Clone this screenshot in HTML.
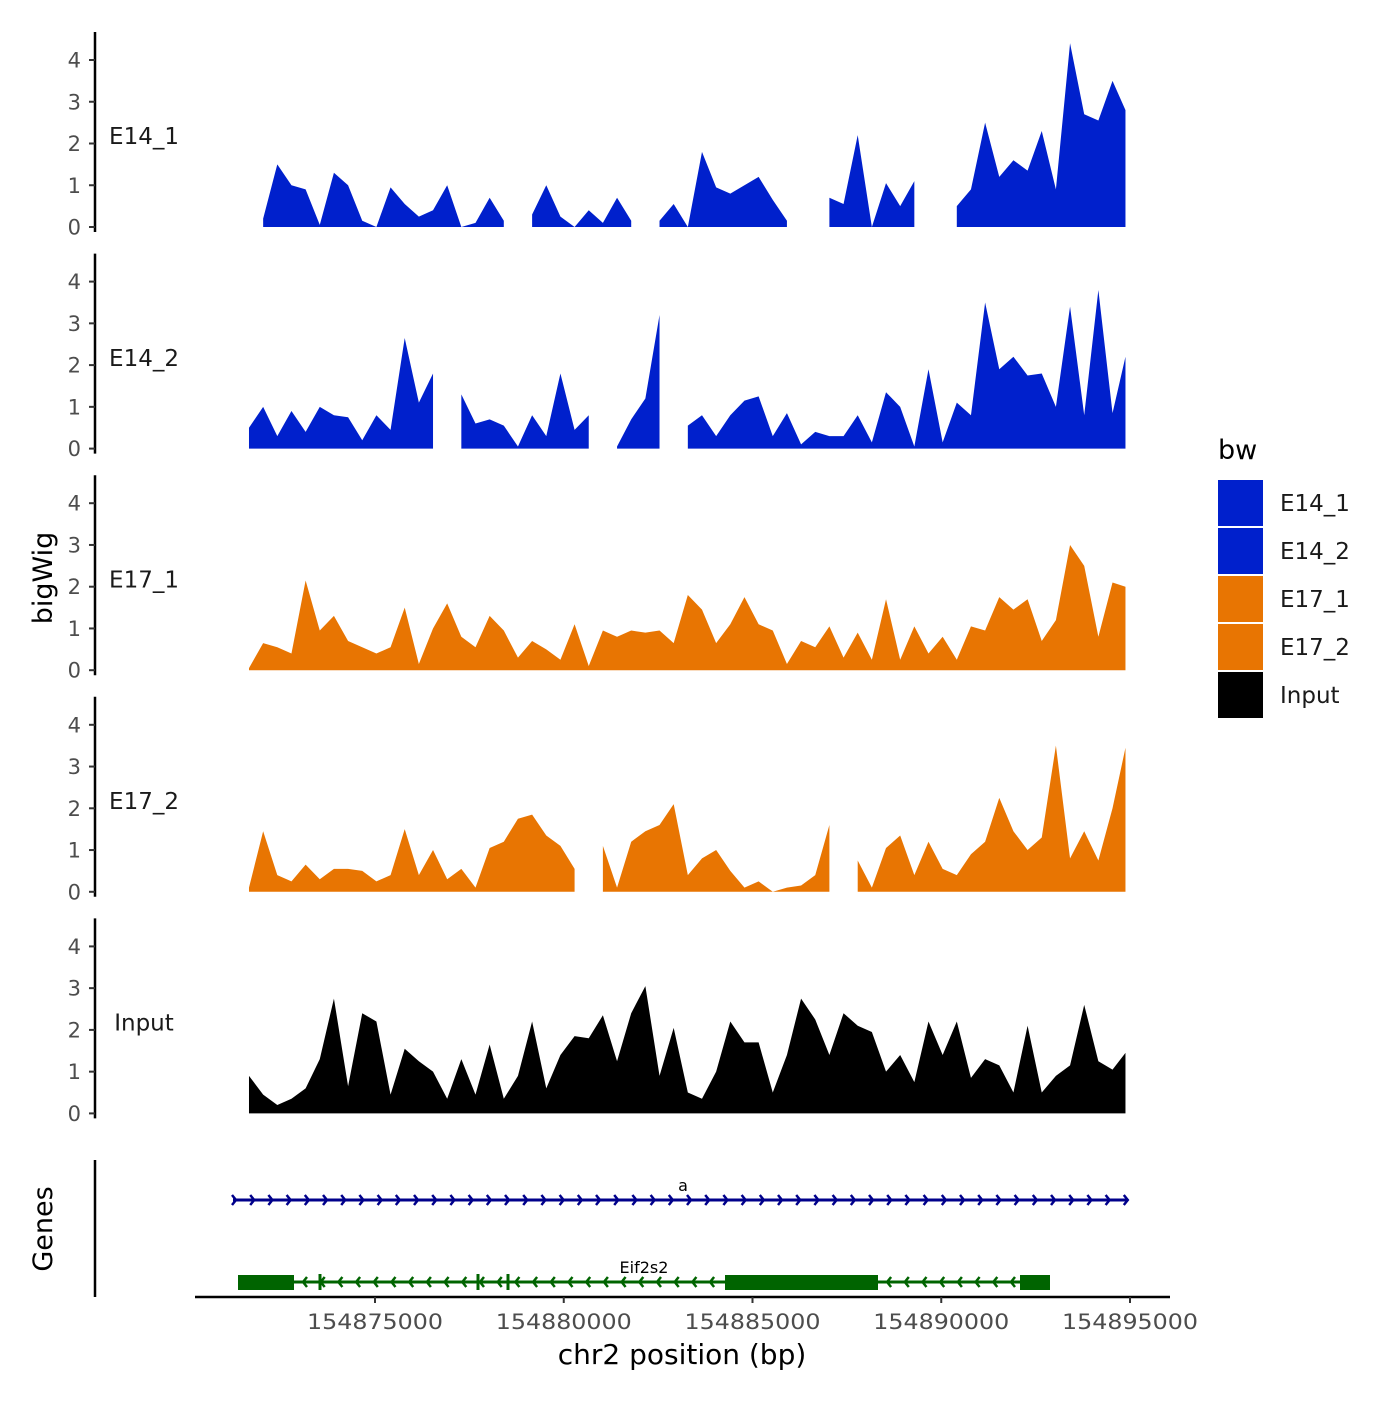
<!DOCTYPE html>
<html><head><meta charset="utf-8"><style>
body{margin:0;background:#fff}
svg text{font-family:"DejaVu Sans","Liberation Sans",sans-serif}
</style></head><body>
<svg id="chart" width="1400" height="1400" xmlns="http://www.w3.org/2000/svg">
<g id="tracks"></g>
<g id="genes"></g>
<g id="xaxis"></g>
<text x="52" y="578" transform="rotate(-90 52 578)" text-anchor="middle" font-size="27">bigWig</text>
<text x="52" y="1229" transform="rotate(-90 52 1229)" text-anchor="middle" font-size="27">Genes</text>
<text x="682" y="1364" text-anchor="middle" font-size="28">chr2 position (bp)</text>
<g id="legend">
<text x="1218" y="459" font-size="27">bw</text>
</g>
</svg>
<script>
const trackNames = ["E14_1","E14_2","E17_1","E17_2","Input"];
const trackColors = ["#0020cc","#0020cc","#e87502","#e87502","#000000"];
const startBp = 154871662;
const stepBp = 375;
const endBp = 154894880;
const e14_1 = [null,0.2,1.5,1.0,0.9,0.05,1.3,1.0,0.15,0,0.95,0.55,0.25,0.4,1.0,0,0.1,0.7,0.15,null,0.3,1.0,0.25,0,0.4,0.1,0.7,0.15,null,0.15,0.55,0,1.8,0.95,0.8,1.0,1.2,0.65,0.15,null,null,0.7,0.55,2.2,0,1.05,0.5,1.1,null,null,0.5,0.9,2.5,1.2,1.6,1.35,2.3,0.9,4.4,2.7,2.55,3.5,2.8];
const e14_2 = [0.5,1.0,0.3,0.9,0.4,1.0,0.8,0.75,0.2,0.8,0.45,2.65,1.1,1.8,null,1.3,0.6,0.7,0.55,0.05,0.8,0.3,1.8,0.45,0.8,null,0.05,0.7,1.2,3.2,null,0.55,0.8,0.3,0.8,1.15,1.25,0.3,0.85,0.1,0.4,0.3,0.3,0.8,0.15,1.35,1.0,0.05,1.9,0.15,1.1,0.8,3.5,1.9,2.2,1.75,1.8,1.0,3.4,0.8,3.8,0.85,2.2];
const e17_1 = [0.05,0.65,0.55,0.4,2.15,0.95,1.3,0.7,0.55,0.4,0.55,1.5,0.15,1.0,1.6,0.8,0.55,1.3,0.95,0.3,0.7,0.5,0.25,1.1,0.1,0.95,0.8,0.95,0.9,0.95,0.65,1.8,1.45,0.65,1.1,1.75,1.1,0.95,0.15,0.7,0.55,1.05,0.3,0.9,0.25,1.7,0.25,1.05,0.4,0.8,0.25,1.05,0.95,1.75,1.45,1.7,0.7,1.2,3.0,2.5,0.8,2.1,2.0];
const e17_2 = [0.1,1.45,0.4,0.25,0.65,0.3,0.55,0.55,0.5,0.25,0.4,1.5,0.4,1.0,0.3,0.55,0.1,1.05,1.2,1.75,1.85,1.35,1.1,0.55,null,1.1,0.1,1.2,1.45,1.6,2.1,0.4,0.8,1.0,0.5,0.1,0.25,0,0.1,0.15,0.4,1.6,null,0.75,0.1,1.05,1.35,0.4,1.2,0.55,0.4,0.9,1.2,2.25,1.45,1.0,1.3,3.5,0.8,1.45,0.75,2.0,3.45];
const input = [0.9,0.45,0.2,0.35,0.6,1.3,2.75,0.65,2.4,2.2,0.45,1.55,1.25,1.0,0.35,1.3,0.45,1.65,0.35,0.9,2.2,0.6,1.4,1.85,1.8,2.35,1.25,2.4,3.05,0.9,2.05,0.5,0.35,1.0,2.2,1.7,1.7,0.5,1.4,2.75,2.25,1.4,2.4,2.1,1.95,1.0,1.4,0.75,2.2,1.4,2.2,0.85,1.3,1.15,0.5,2.1,0.5,0.9,1.15,2.6,1.25,1.05,1.45];
const series = [e14_1,e14_2,e17_1,e17_2,input];
const yTicks = [0,1,2,3,4];
const xTicks = [154875000,154880000,154885000,154890000,154895000];
const xTickLabels = ["154875000","154880000","154885000","154890000","154895000"];

const NS="http://www.w3.org/2000/svg";
function mk(tag,attrs,parent){const e=document.createElementNS(NS,tag);for(const k in attrs)e.setAttribute(k,attrs[k]);parent.appendChild(e);return e;}
const xScale = bp => 375 + (bp-154875000)/1000*37.75;
const panelGap = 221.6, unit = 41.75;
const yScale = (p,v) => 227 + p*panelGap - v*unit;

const tracks=document.getElementById('tracks');
series.forEach((vals,p)=>{
  const g=mk('g',{},tracks);
  
  
  const ax=mk('line',{x1:95,x2:95,y1:32+p*panelGap,y2:232+p*panelGap,stroke:'#000','stroke-width':2.5},g);
  
  
  yTicks.forEach(t=>{
    const y=yScale(p,t);
    const tl=mk('line',{x1:89,x2:95,y1:y,y2:y,stroke:'#333','stroke-width':2},g);
    
    
    const tx=mk('text',{x:81,y:y+7.5,'text-anchor':'end','font-size':21,fill:'#4d4d4d'},g);
    tx.textContent=t;
    
    
  });
  const lab=mk('text',{x:144,y:yScale(p,2.15)+7,'text-anchor':'middle','font-size':23,fill:'#1a1a1a'},g);
  lab.textContent=trackNames[p];
  
  
  let run=[];
  const flush=()=>{
    if(run.length){
      const base=yScale(p,0);
      let pts=[];
      const x0=xScale(run[0][0]), x1=xScale(run[run.length-1][0]);
      pts.push(x0+','+base);
      run.forEach(r=>pts.push(xScale(r[0])+','+yScale(p,r[1])));
      pts.push(x1+','+base);
      const poly=mk('polygon',{points:pts.join(' '),fill:trackColors[p]},g);
      
      
    }
    run=[];
  };
  vals.forEach((v,i)=>{
    let bp=startBp+i*stepBp; if(bp>endBp) bp=endBp;
    if(v===null) flush(); else run.push([bp,v]);
  });
  flush();
});

const gg=document.getElementById('genes');
const gax=mk('line',{x1:95,x2:95,y1:1160,y2:1297,stroke:'#000','stroke-width':2.5},gg);


const gA=mk('g',{},gg);


mk('line',{x1:233,x2:1128,y1:1200,y2:1200,stroke:'#00008b','stroke-width':3},gA);
for(let x=236;x<=1128;x+=18.2){mk('polyline',{points:`${x-4},1195 ${x},1200 ${x-4},1205`,fill:'none',stroke:'#00008b','stroke-width':2.5},gA);}
const ta=mk('text',{x:683,y:1191,'text-anchor':'middle','font-size':16},gA);ta.textContent='a';


const gE=mk('g',{},gg);


mk('line',{x1:238,x2:1050,y1:1282,y2:1282,stroke:'#006400','stroke-width':3},gE);
for(let x=303;x<1020;x+=17.7){ if(x>720&&x<880) continue; mk('polyline',{points:`${x+4},1277 ${x},1282 ${x+4},1287`,fill:'none',stroke:'#006400','stroke-width':2.5},gE);}
[[238,294],[725,878],[1020,1050]].forEach(e=>mk('rect',{x:e[0],y:1275,width:e[1]-e[0],height:15,fill:'#006400'},gE));
[320,478,508].forEach(x=>mk('rect',{x:x-1.5,y:1274,width:3,height:16,fill:'#006400'},gE));
const te=mk('text',{x:644,y:1273,'text-anchor':'middle','font-size':16},gE);te.textContent='Eif2s2';



const xa=document.getElementById('xaxis');
mk('line',{x1:195,x2:1170,y1:1297,y2:1297,stroke:'#000','stroke-width':2.5},xa);
xTicks.forEach((t,i)=>{
  const x=xScale(t);
  const tl=mk('line',{x1:x,x2:x,y1:1297,y2:1303,stroke:'#333','stroke-width':2},xa);
  
  
  const tx=mk('text',{x:x,y:1329,'text-anchor':'middle','font-size':21,fill:'#4d4d4d',textLength:136,lengthAdjust:'spacingAndGlyphs'},xa);
  tx.textContent=xTickLabels[i];
  
  
});

const lg=document.getElementById('legend');
trackNames.forEach((n,i)=>{
  const y=480+i*48;
  const r=mk('rect',{x:1218,y:y,width:45,height:46,fill:trackColors[i]},lg);
  
  
  const t=mk('text',{x:1280,y:y+31,'font-size':23,fill:'#1a1a1a'},lg);
  t.textContent=n;
  
  
});
</script>
</body></html>
